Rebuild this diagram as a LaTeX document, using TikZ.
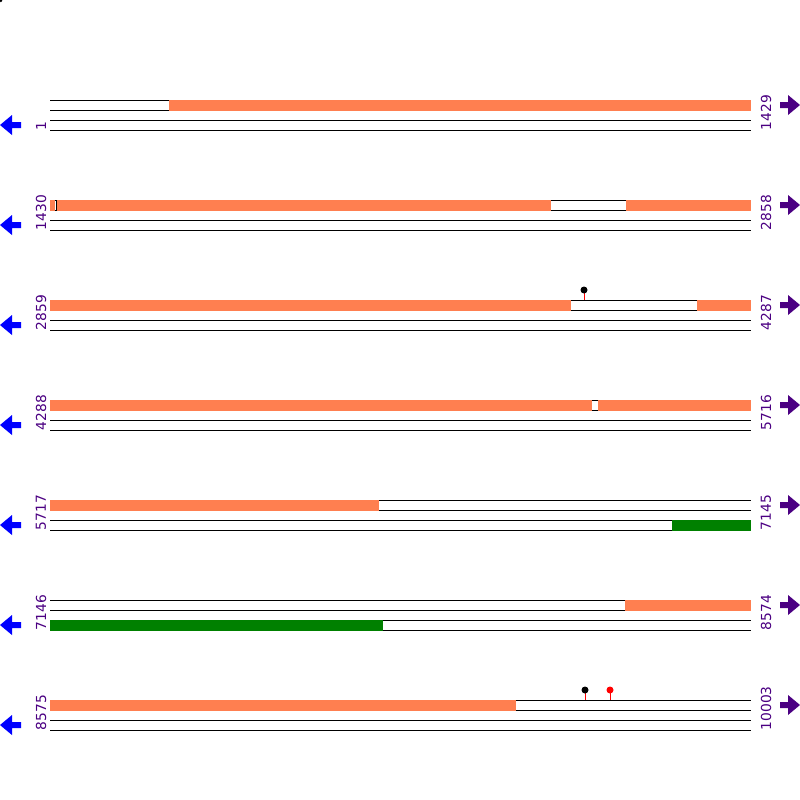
\documentclass[tikz,border=0pt]{standalone}
\usepackage{fontspec}
\setmainfont{DejaVu Sans}
\definecolor{coral}{HTML}{FF7F50}
\definecolor{leaf}{HTML}{008000}
\definecolor{pointer}{HTML}{0000FF}
\definecolor{indigo}{HTML}{4B0082}
\tikzset{
  track/.style={draw=black, line width=1pt},
  orf/.style={fill=coral},
  orfb/.style={fill=leaf},
  coordlabel/.style={
    rotate=90, anchor=west, inner sep=0pt,
    text=indigo, font=\fontsize{13.8}{14}\selectfont
  },
  lolli/.style={draw=red, line width=1pt},
  tipleft/.style={fill=pointer},
  tipright/.style={fill=indigo}
}
\begin{document}
\begin{tikzpicture}[x=1pt, y=-1pt]
        \useasboundingbox (0,0) rectangle (800,800);
        \fill (0.8,0.8) circle (1.5);
        % tracks, numbers and strand arrows
        \foreach \y/\lft/\rgt in {100/1/1429, 200/1430/2858, 300/2859/4287,
          400/4288/5716, 500/5717/7145, 600/7146/8574, 700/8575/10003} {
          \foreach \d in {0,10,20,30}
            \draw[track] (50,\y+\d) -- (751,\y+\d);
          \node[coordlabel] (l\y) at (41,\y+30.5) {\lft};
          \node[coordlabel] (r\y) at (766,\y+30.5) {\rgt};
          \fill[tipright] (800,\y+5) -- (788,\y-5) -- (788,\y+2) -- (780,\y+2)
            -- (780,\y+8) -- (788,\y+8) -- (788,\y+15) -- cycle;
          \fill[tipleft] (0,\y+25) -- (12,\y+15) -- (12,\y+22) -- (21,\y+22)
            -- (21,\y+28) -- (12,\y+28) -- (12,\y+35) -- cycle;
        }
        % upper strand
        \fill[orf] (169,99.5) rectangle (751,110.5);
        \fill[orf] (50,199.5) rectangle (55,210.5);
        \draw[track] (56,200) -- (56,210);
        \fill[orf] (57,199.5) rectangle (551,210.5);
        \fill[orf] (626,199.5) rectangle (751,210.5);
        \fill[orf] (50,299.5) rectangle (571,310.5);
        \fill[orf] (697,299.5) rectangle (751,310.5);
        \fill[orf] (50,399.5) rectangle (592,410.5);
        \fill[orf] (598,399.5) rectangle (751,410.5);
        \fill[orf] (50,499.5) rectangle (379,510.5);
        \fill[orf] (625,599.5) rectangle (751,610.5);
        \fill[orf] (50,699.5) rectangle (516,710.5);
        % lower strand
        \fill[orfb] (672,519.5) rectangle (751,530.5);
        \fill[orfb] (50,619.5) rectangle (383,630.5);
        % sites
        \foreach \x/\y/\c in {584/300/black, 585/700/black, 610/700/red} {
          \draw[lolli] (\x,\y-7) -- (\x,\y);
          \fill[\c] (\x,\y-10) circle (3.5);
        }
      \end{tikzpicture}
\end{document}
